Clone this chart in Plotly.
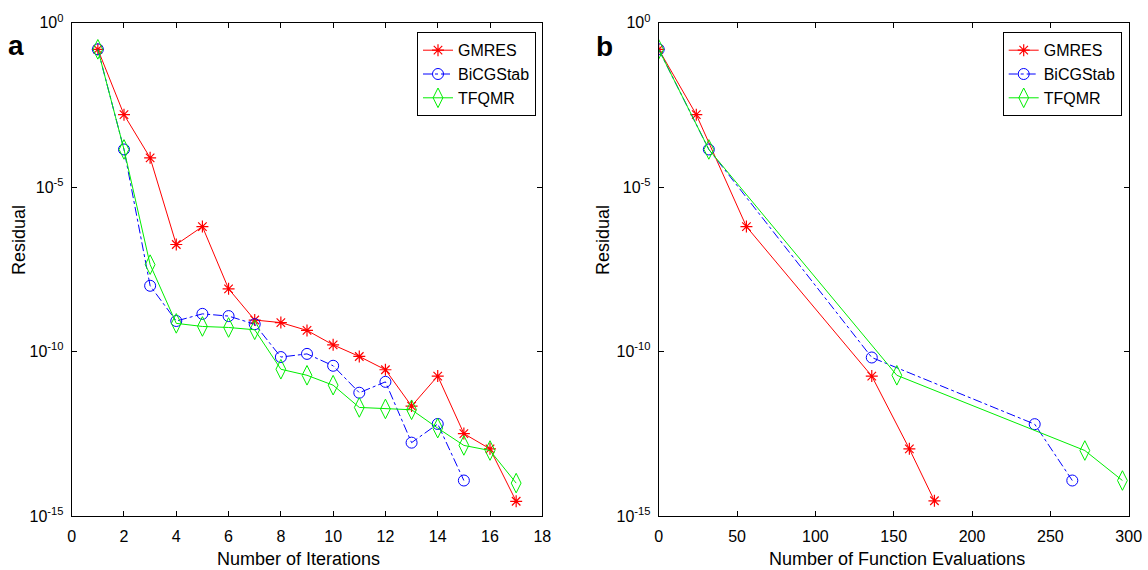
import plotly.graph_objects as go

# ---- data: residual histories of three Krylov solvers ----
# panel a: residual vs. iteration count
iters_gmres = list(range(1, 18))
res_gmres = [1.55e-1, 1.6e-3, 7.8e-5, 1.8e-7, 6.3e-7, 8.1e-9, 9.1e-10, 7.6e-10,
             4.4e-10, 1.6e-10, 7.1e-11, 2.8e-11, 2.2e-12, 1.8e-11, 3.2e-13,
             1.1e-13, 2.8e-15]

iters_bicg = list(range(1, 16))
res_bicg = [1.55e-1, 1.4e-4, 1.0e-8, 8.5e-10, 1.4e-9, 1.2e-9, 6.8e-10, 6.8e-11,
            8.5e-11, 3.7e-11, 5.6e-12, 1.2e-11, 1.7e-13, 6.3e-13, 1.2e-14]

iters_tfqmr = list(range(1, 18))
res_tfqmr = [1.55e-1, 1.4e-4, 4.4e-8, 7.2e-10, 5.8e-10, 5.4e-10, 4.6e-10,
             2.9e-11, 1.9e-11, 9.5e-12, 2.0e-12, 1.8e-12, 1.7e-12, 4.7e-13,
             1.4e-13, 9.8e-14, 1.0e-14]

# panel b: residual vs. number of function evaluations
fevals_gmres = [0, 24, 56, 136, 160, 176]
fres_gmres = [1.55e-1, 1.6e-3, 6.3e-7, 1.8e-11, 1.1e-13, 2.9e-15]

fevals_bicg = [0, 32, 136, 240, 264]
fres_bicg = [1.55e-1, 1.4e-4, 6.6e-11, 6.2e-13, 1.2e-14]

fevals_tfqmr = [0, 32, 152, 272, 296]
fres_tfqmr = [1.55e-1, 1.4e-4, 1.9e-11, 9.8e-14, 1.2e-14]

names = ["GMRES", "BiCGStab", "TFQMR"]
y_tickvals = [1, 1e-5, 1e-10, 1e-15]
y_ticktext = ["10<sup>0</sup>", "10<sup>-5</sup>", "10<sup>-10</sup>", "10<sup>-15</sup>"]

FONT = "Liberation Sans, Arial, Helvetica, sans-serif"

styles = {
    "GMRES": dict(line=dict(color="#ff0000", width=1, dash="solid"),
                  marker=dict(symbol="asterisk-open", size=10, color="#ff0000",
                              line=dict(color="#ff0000", width=1.2))),
    "BiCGStab": dict(line=dict(color="#0000ff", width=1, dash="dashdot"),
                     marker=dict(symbol="circle-open", size=11, color="#0000ff",
                                 line=dict(color="#0000ff", width=1))),
    "TFQMR": dict(line=dict(color="#00ee00", width=1, dash="solid"),
                  marker=dict(symbol="diamond-tall-open", size=14, color="#00ee00",
                              line=dict(color="#00ee00", width=1))),
}

fig = go.Figure()

panel_a = [(iters_gmres, res_gmres), (iters_bicg, res_bicg), (iters_tfqmr, res_tfqmr)]
panel_b = [(fevals_gmres, fres_gmres), (fevals_bicg, fres_bicg), (fevals_tfqmr, fres_tfqmr)]

for name, (x, y) in zip(names, panel_a):
    fig.add_trace(go.Scatter(x=x, y=y, name=name, mode="lines+markers",
                             xaxis="x", yaxis="y", legend="legend",
                             **styles[name]))
for name, (x, y) in zip(names, panel_b):
    fig.add_trace(go.Scatter(x=x, y=y, name=name, mode="lines+markers",
                             xaxis="x2", yaxis="y2", legend="legend2",
                             **styles[name]))

W, H = 1148, 570
y_dom = [1 - 516 / H, 1 - 22.7 / H]

common_axis = dict(showgrid=False, zeroline=False, showline=True, linecolor="black",
                   linewidth=1, mirror="ticks", ticks="inside", ticklen=5,
                   tickcolor="black", tickwidth=1, automargin=False,
                   tickfont=dict(family=FONT, size=16, color="black"))

yaxis_cfg = dict(type="log", range=[-15, 0], tickmode="array", tickvals=y_tickvals,
                 ticktext=y_ticktext, ticklabelstandoff=4, **common_axis)

legend_cfg = dict(bgcolor="white", bordercolor="black", borderwidth=1,
                  font=dict(family=FONT, size=16, color="black"),
                  yanchor="top", xanchor="right", y=1 - 32.3 / H,
                  tracegroupgap=0, itemwidth=30)

fig.update_layout(
    width=W, height=H,
    margin=dict(l=0, r=0, t=0, b=0, autoexpand=False),
    paper_bgcolor="white", plot_bgcolor="white",
    font=dict(family=FONT, color="black"),
    xaxis=dict(domain=[71.7 / W, 542.3 / W], range=[0, 18], dtick=2,
               anchor="y", ticklabelstandoff=6, **common_axis),
    yaxis=dict(domain=y_dom, anchor="x", **yaxis_cfg),
    xaxis2=dict(domain=[658.7 / W, 1128.7 / W], range=[0, 300], dtick=50,
                anchor="y2", ticklabelstandoff=6, **common_axis),
    yaxis2=dict(domain=y_dom, anchor="x2", **yaxis_cfg),
    legend=dict(x=536 / W, **legend_cfg),
    legend2=dict(x=1121.7 / W, **legend_cfg),
    annotations=[
        dict(text="Number of Iterations", x=298 / W, y=1 - 559 / H, xref="paper",
             yref="paper", showarrow=False, xanchor="center", yanchor="middle",
             font=dict(family=FONT, size=18)),
        dict(text="Number of Function Evaluations", x=897 / W, y=1 - 559 / H,
             xref="paper", yref="paper", showarrow=False, xanchor="center",
             yanchor="middle", font=dict(family=FONT, size=18)),
        dict(text="Residual", x=19 / W, y=1 - 240 / H, xref="paper", yref="paper",
             showarrow=False, textangle=-90, xanchor="center", yanchor="middle",
             font=dict(family=FONT, size=18)),
        dict(text="Residual", x=603 / W, y=1 - 240 / H, xref="paper", yref="paper",
             showarrow=False, textangle=-90, xanchor="center", yanchor="middle",
             font=dict(family=FONT, size=18)),
        dict(text="<b>a</b>", x=16 / W, y=1 - 45 / H, xref="paper", yref="paper",
             showarrow=False, xanchor="center", yanchor="middle",
             font=dict(family=FONT, size=28)),
        dict(text="<b>b</b>", x=604 / W, y=1 - 46 / H, xref="paper", yref="paper",
             showarrow=False, xanchor="center", yanchor="middle",
             font=dict(family=FONT, size=28)),
    ],
)

fig.write_html("out.html")
